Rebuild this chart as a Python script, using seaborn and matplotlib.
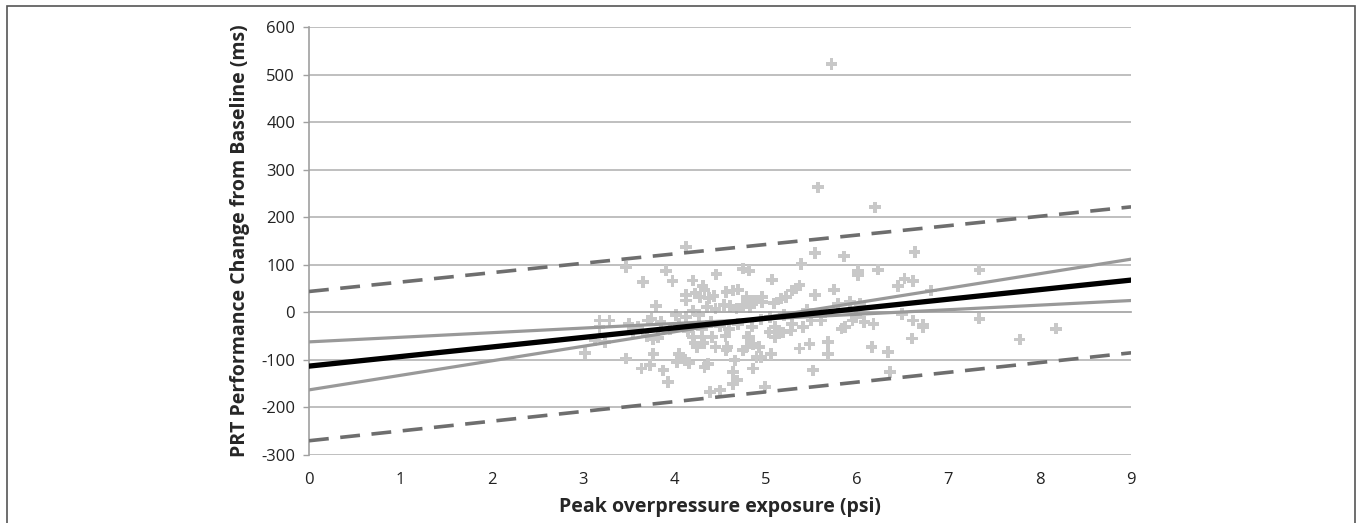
import pandas as pd
import matplotlib.pyplot as plt
import matplotlib.patches as mpatches
import seaborn as sns

# scatter points (psi, ms)
exposure = [5.72, 5.57, 6.20, 4.13, 3.47, 3.91, 3.66, 3.98, 4.20, 4.46, 4.75, 4.82, 4.31, 4.13, 4.13,
            4.23, 4.28, 4.33, 4.38, 4.43, 4.57, 4.64, 4.70, 4.79, 4.86, 3.80, 4.02, 4.13, 4.20, 4.27,
            4.36, 4.45, 4.54, 4.61, 4.68, 4.75, 4.83, 3.18, 3.29, 3.18, 3.02, 3.13, 3.24, 3.47, 3.71,
            3.75, 3.70, 3.77, 3.82, 3.77, 3.64, 3.73, 3.88, 3.93, 4.05, 4.08, 4.12, 4.16, 4.03, 4.20,
            4.22, 4.25, 4.30, 4.32, 4.41, 4.45, 4.56, 4.58, 4.57, 4.37, 4.33, 4.39, 4.50, 4.64, 4.69,
            4.64, 4.66, 4.75, 4.79, 4.82, 5.54, 5.86, 6.63, 5.39, 6.01, 6.01, 6.23, 5.07, 6.52, 6.61,
            6.45, 4.96, 4.89, 4.96, 5.09, 5.22, 5.29, 5.33, 5.37, 5.17, 5.54, 5.75, 5.79, 5.92, 6.03,
            6.49, 6.61, 6.72, 6.60, 6.34, 6.16, 6.36, 5.83, 5.87, 5.95, 5.99, 6.08, 6.18, 5.68, 5.68,
            5.48, 5.37, 5.52, 4.99, 4.86, 4.90, 4.95, 5.06, 4.93, 4.86, 4.80, 5.10, 5.19, 5.28, 5.41,
            5.50, 5.61, 5.29, 5.10, 5.04, 5.15, 6.81, 7.34, 7.34, 7.78, 8.18, 6.72, 3.50, 3.55, 3.60,
            4.40, 4.50, 4.60, 4.70, 4.85, 4.95, 5.05, 5.20, 5.45, 5.65, 4.30, 4.15, 4.05, 3.95, 3.85]
prt_change = [522, 263, 221, 137, 95, 88, 64, 66, 67, 80, 92, 88, 55, 36, 25,
              40, 33, 48, 30, 35, 43, 46, 48, 32, 25, 13, -6, -10, 4, -6,
              11, 8, 15, 13, 8, 15, 11, -17, -17, -31, -86, -59, -62, -97, -17,
              -13, -50, -57, -53, -87, -118, -111, -122, -146, -87, -95, -100, -107, -104, -52,
              -65, -73, -52, -65, -52, -73, -49, -73, -80, -108, -115, -167, -164, -150, -143,
              -125, -101, -80, -73, -52, 125, 118, 127, 102, 88, 78, 90, 69, 71, 66,
              55, 32, 25, 22, 19, 32, 46, 50, 57, 29, 37, 48, 18, 22, 18,
              -3, -17, -27, -55, -83, -73, -125, -34, -31, -17, -10, -20, -24, -62, -87,
              -66, -76, -122, -157, -118, -94, -94, -87, -73, -66, -52, -52, -42, -38, -31,
              -17, -17, -24, -31, -42, -42, 46, 90, -13, -57, -34, -31, -25, -40, -30,
              -20, -28, -35, -25, -30, -15, -10, -5, 5, 0, -35, -40, -25, -35, -20]

# fitted line, confidence band and prediction band at the ends of the axis
line_x = [0, 9]
fit_y = [-113, 68]
ci_steep_y = [-163, 112]
ci_flat_y = [-62, 25]
pi_upper_y = [44, 222]
pi_lower_y = [-270, -85]

points = pd.DataFrame({'psi': exposure, 'ms': prt_change})

sns.set_style('white')
plt.rcParams['font.family'] = ['Open Sans', 'DejaVu Sans']
plt.rcParams['axes.unicode_minus'] = False

fig = plt.figure(figsize=(13.57, 5.23), dpi=100)
ax = fig.add_axes([0.2277, 0.130, 0.6058, 0.818])

ax.set_xlim(0, 9)
ax.set_ylim(-300, 600)
ax.set_yticks(range(-300, 700, 100))
for yv in range(-300, 700, 100):
    if yv != 0:
        ax.axhline(yv, color='#b4b4b4', lw=1.2, zorder=0)

sns.scatterplot(data=points, x='psi', y='ms', marker='P', s=70, color='#c8c8c8',
                edgecolor='none', linewidth=0, ax=ax, zorder=2)

sns.lineplot(x=line_x, y=pi_upper_y, color='#6e6e6e', lw=2.6, ax=ax, zorder=3).lines[-1].set_dashes((5.5, 3.2))
sns.lineplot(x=line_x, y=pi_lower_y, color='#6e6e6e', lw=2.6, ax=ax, zorder=3).lines[-1].set_dashes((5.5, 3.2))
sns.lineplot(x=line_x, y=ci_steep_y, color='#999999', lw=2.3, ax=ax, zorder=3)
sns.lineplot(x=line_x, y=ci_flat_y, color='#999999', lw=2.3, ax=ax, zorder=3)
sns.lineplot(x=line_x, y=fit_y, color='black', lw=3.8, ax=ax, zorder=4)

# horizontal axis line crosses at zero, labels stay at the bottom
for side in ['top', 'right']:
    ax.spines[side].set_visible(False)
ax.spines['bottom'].set_position(('data', 0))
ax.spines['bottom'].set_color('#a0a0a0')
ax.spines['bottom'].set_linewidth(1.2)
ax.spines['left'].set_color('#a0a0a0')
ax.spines['left'].set_linewidth(1.2)
ax.set_xticks(range(0, 10))
ax.tick_params(axis='x', direction='out', length=4, width=1.0, color='#a0a0a0', labelbottom=False)
ax.tick_params(axis='y', direction='out', length=4, width=1.0, color='#a0a0a0', labelsize=12,
               labelcolor='#222222', pad=6, left=True)

sec = ax.secondary_xaxis('bottom')
sec.set_xticks(range(0, 10))
sec.spines['bottom'].set_visible(False)
sec.tick_params(length=0, labelsize=12, labelcolor='#222222', pad=12)

ax.set_xlabel('')
ax.set_ylabel('PRT Performance Change from Baseline (ms)', fontsize=14, fontweight='bold', labelpad=8)
sec.set_xlabel('Peak overpressure exposure (psi)', fontsize=14, fontweight='bold', labelpad=7)

fig.patches.append(mpatches.Rectangle((7 / 1357, -0.01), 1348 / 1357, 1 - 6 / 523 + 0.01,
                                      transform=fig.transFigure, fill=False,
                                      edgecolor='#555555', lw=1.2))

fig.savefig('out.png', dpi=100)
